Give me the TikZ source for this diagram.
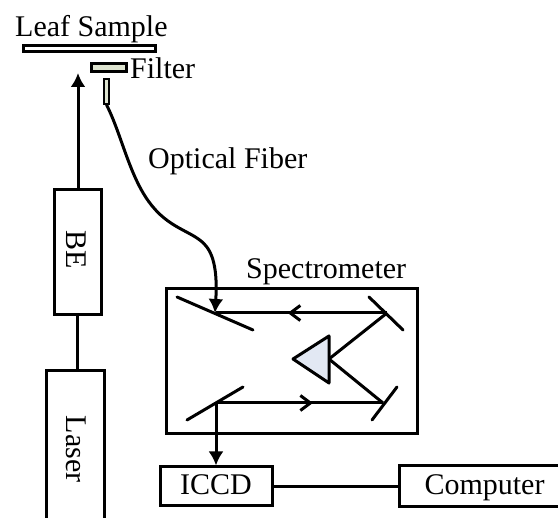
\documentclass[tikz,border=0pt]{standalone}
\usepackage{fontspec}
\setmainfont{Liberation Serif}
\usetikzlibrary{arrows.meta, decorations.markings}
\tikzstyle{Box} = [rectangle, draw, line width=3pt, inner sep=0pt, font=\fontsize{30}{30}\selectfont, text height=22pt, text depth=6pt]
\tikzstyle{Thin} = [Box, text height=0pt, text depth=0pt]
\tikzstyle{Label} = [inner sep=0pt, anchor=base west, font=\fontsize{30}{30}\selectfont]
\tikzstyle{Beam} = [line width=3pt]
\tikzstyle{Mirror} = [line width=3pt, line cap=round]
\tikzstyle{Arrow} = [line width=3pt, -{Latex[length=14pt,width=15pt]}]
\tikzstyle{MidArrow} = [Beam,
decoration={
markings,
mark=at position 0.58 with {
\arrow[line width=3pt]{Straight Barb[length=10pt,width=15pt]}}},
postaction = {decorate}]
\definecolor{filterGreen}{HTML}{DDE3CF}
\definecolor{prismBlue}{HTML}{E2E8F3}
\begin{document}
\begin{tikzpicture}[x=1pt,y=-1pt]
    \useasboundingbox (0,0) rectangle (558,518);
    \clip (0,0) rectangle (558,518);
    % sample side
    \node [Thin, minimum width=132pt, minimum height=6pt] (leaf) at (89,49) {};
    \node [Thin, fill=filterGreen, minimum width=35pt, minimum height=8pt] (filter) at (108.5,68) {};
    \node [Thin, fill=filterGreen, line width=1.6pt, minimum width=4.5pt, minimum height=25pt] (tip) at (106.5,91.5) {};
    \node [Label] (leaflabel) at (15,36.5) {Leaf Sample};
    \node [Label] (filterlabel) at (130,79) {Filter};
    \node [Label] (fiberlabel) at (148,169) {Optical Fiber};
    % laser side
    \node [Box, minimum width=47pt, minimum height=125pt] (be) at (77.5,252.5) {};
    \node [rotate=-90, font=\fontsize{30}{30}\selectfont] (belabel) at (76,250) {BE};
    \node [Box, minimum width=58pt, minimum height=170pt] (laser) at (75,456) {};
    \node [rotate=-90, font=\fontsize{30}{30}\selectfont] (laserlabel) at (76,449) {Laser};
    \coordinate (spot) at (78,73);
    \draw[Arrow] (be.north -| spot) to (spot);
    \draw[line width=3pt] (be.south) to (laser.north -| be.south);
    % spectrometer
    \node [Box, minimum width=251pt, minimum height=145pt] (spec) at (291.5,361.5) {};
    \node [Label] (speclabel) at (246,279) {Spectrometer};
    \coordinate (m1) at (216,313);
    \coordinate (m2) at (387,313);
    \coordinate (m3) at (383,403);
    \coordinate (m4) at (216,403);
    \draw[Mirror] (177,297) -- (253,330);
    \draw[Mirror] (369,297) -- (403,330);
    \draw[Mirror] (372,420) -- (397,387);
    \draw[Mirror] (187,420) -- (243,387);
    \draw[Beam, fill=prismBlue, line join=round] (293,359) -- (329,336) -- (329,383) -- cycle;
    \coordinate (prism) at (329,359);
    \draw[MidArrow] (m2) to (m1);
    \draw[Beam] (m2) to (prism);
    \draw[Beam] (prism) to (m3);
    \draw[MidArrow] (m4) to (m3);
    % fiber
    \draw[Arrow] (tip.south) .. controls (122,135) and (130,180) .. (153,207) .. controls (172,230) and (195,232) .. (206,246) .. controls (216,258) and (217,280) .. (215,313);
    % detector
    \node [Box, minimum width=112pt, minimum height=39pt] (iccd) at (216,486.5) {ICCD};
    \coordinate (compcenter) at (484.5,486.5);
    \node [Box, minimum width=171pt, minimum height=41pt] (computer) at (compcenter) {Computer};
    \draw[Arrow] (m4) to (iccd.north -| m4);
    \draw[line width=3pt] (iccd) to (computer);
\end{tikzpicture}
\end{document}
